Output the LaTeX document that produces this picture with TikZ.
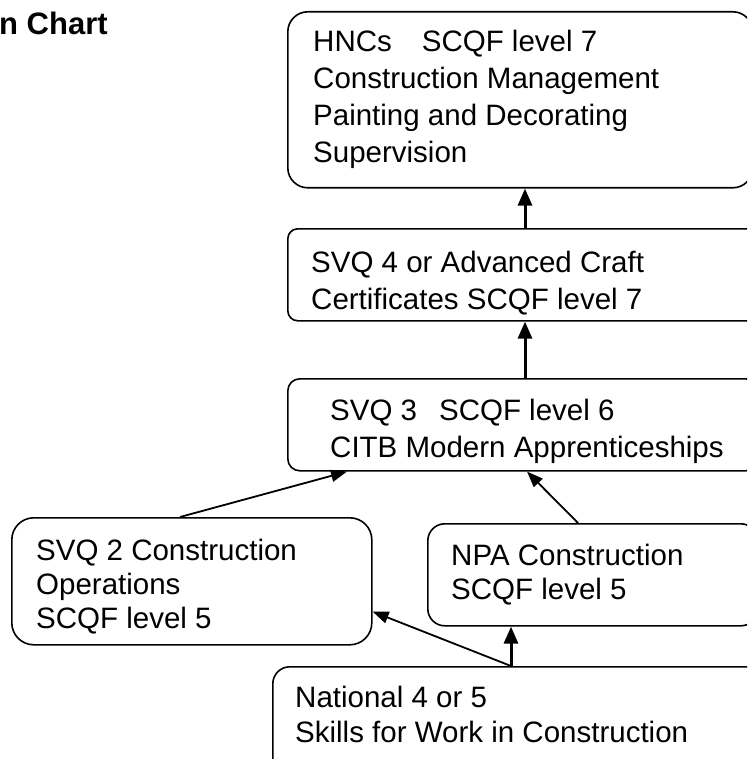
\documentclass[tikz,border=0pt]{standalone}
\usepackage{fontspec}
\setmainfont{Liberation Sans}
\usetikzlibrary{arrows.meta}
\begin{document}
\begin{tikzpicture}[x=1pt,y=-1pt,
 box/.style={draw, line width=1.6pt, rectangle, inner sep=0pt, anchor=north west},
 txt/.style={inner sep=0pt, anchor=north west, align=left, font=\fontsize{29.5pt}{37pt}\selectfont},
 txtb/.style={inner sep=0pt, anchor=north west, align=left, font=\fontsize{29.5pt}{34pt}\selectfont},
 arr/.style={-{Triangle[length=17pt,width=14pt]}, line width=3pt},
 arrs/.style={-{Triangle[length=16pt,width=12pt]}, line width=1.8pt}]
\useasboundingbox (0,0) rectangle (747,759);
\clip (0,0) rectangle (747,759);
\node[font=\bfseries\fontsize{31pt}{36pt}\selectfont, anchor=base west, inner sep=0pt] (title) at (-1,35) {n Chart};
% boxes
\node[box, rounded corners=20pt, minimum width=465pt, minimum height=176pt] (hnc) at (287,11) {};
\node[box, rounded corners=10pt, minimum width=470pt, minimum height=92pt] (svq4) at (287,228) {};
\node[box, rounded corners=12pt, minimum width=470pt, minimum height=92pt] (svq3) at (287,378) {};
\node[box, rounded corners=22pt, minimum width=360pt, minimum height=127pt] (svq2) at (11,517) {};
\node[box, rounded corners=17pt, minimum width=330pt, minimum height=102pt] (npa) at (427,523) {};
\node[box, rounded corners=17pt, minimum width=490pt, minimum height=110pt] (nat) at (272,666) {};
% texts
\node[txt] (hnct) at (313,30) {HNCs\hspace{30pt}SCQF level 7\\Construction Management\\Painting and Decorating\\Supervision};
\node[txt] (svq4t) at (311,251) {SVQ 4 or Advanced Craft\\Certificates SCQF level 7};
\node[txt] (svq3t) at (330,399) {SVQ 3\hspace{22pt}SCQF level 6\\CITB Modern Apprenticeships};
\node[txtb] (svq2t) at (36,539) {SVQ 2 Construction\\Operations\\SCQF level 5};
\node[txtb] (npat) at (451,544) {NPA Construction\\SCQF level 5};
\node[txtb, font=\fontsize{29.5pt}{35pt}\selectfont] (natt) at (295,686) {National 4 or 5\\Skills for Work in Construction};
% connectors
\draw[arr] ([xshift=238pt]svq4.north west) -- ([xshift=238pt]hnc.south west);
\draw[arr] ([xshift=238pt]svq3.north west) -- ([xshift=238pt]svq4.south west);
\draw[arrs] ([xshift=169pt]svq2.north west) -- ([xshift=60pt]svq3.south west);
\draw[arrs] ([xshift=151pt]npa.north west) -- ([xshift=240pt]svq3.south west);
\draw[arr] ([xshift=239pt]nat.north west) -- ([xshift=84pt]npa.south west);
\draw[arrs] ([xshift=239pt]nat.north west) -- ([yshift=34pt]svq2.south east);
\end{tikzpicture}
\end{document}
